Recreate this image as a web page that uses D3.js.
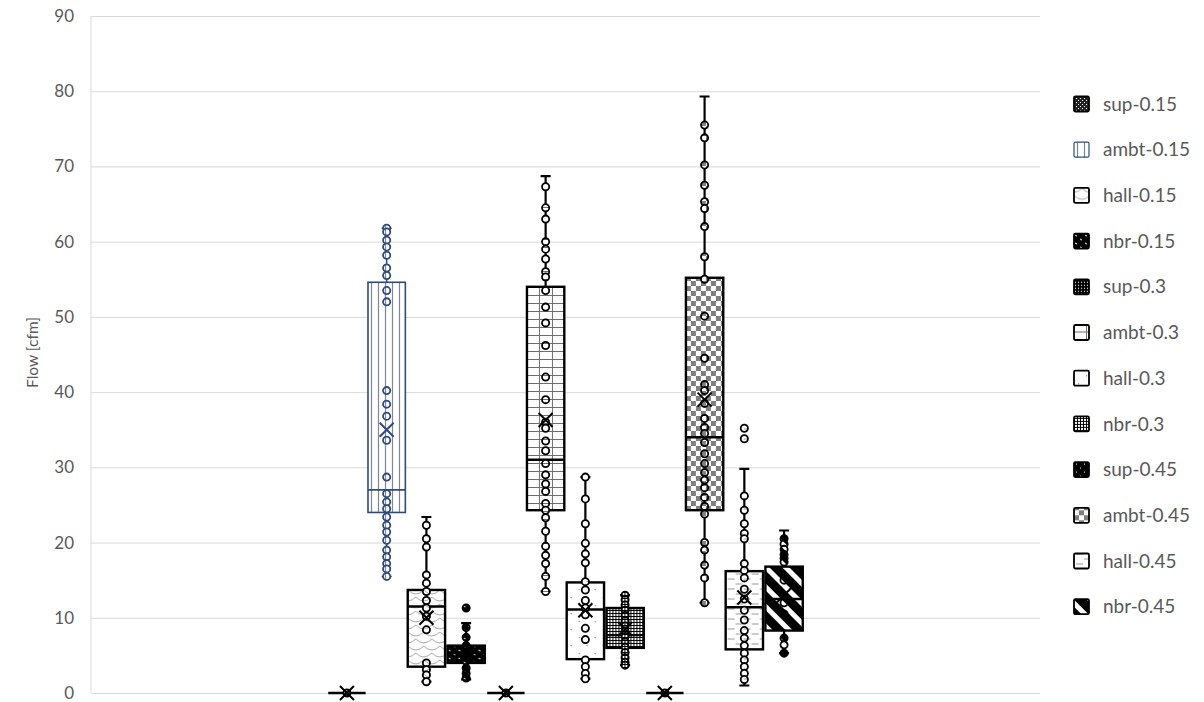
<!DOCTYPE html>
<html>
<head>
<meta charset="utf-8">
<script src="https://cdn.jsdelivr.net/npm/d3@7"></script>
<style>
  body { margin: 0; background: #fff; }
  text { font-family: Lato, 'Open Sans', sans-serif; }
</style>
</head>
<body>
<div id="chart"></div>
<script>
const margin = {top: 16, right: 164, bottom: 9, left: 91};

const WIDTH = 1204;
const HEIGHT = 702;

const width = WIDTH - margin.left - margin.right;
const height = HEIGHT - margin.top - margin.bottom;

// series, in the order of the legend
const seriesNames = ['sup-0.15', 'ambt-0.15', 'hall-0.15', 'nbr-0.15',
                     'sup-0.3', 'ambt-0.3', 'hall-0.3', 'nbr-0.3',
                     'sup-0.45', 'ambt-0.45', 'hall-0.45', 'nbr-0.45'];

// box statistics
const q1Values     = [0, 24.0, 3.5, 4.0, 0, 24.3, 4.5, 6.0, 0, 24.3, 5.8, 8.3];
const medianValues = [0, 27.0, 11.5, 5.3, 0, 31.0, 11.1, 7.7, 0, 34.0, 11.4, 12.5];
const q3Values     = [0, 54.6, 13.7, 6.3, 0, 54.0, 14.7, 11.3, 0, 55.2, 16.2, 16.8];
const meanValues   = [0, 35.0, 10.0, 5.2, 0, 36.3, 11.0, 8.5, 0, 39.0, 12.7, 13.0];
const whiskerLow   = [0, 15.5, 1.5, 1.8, 0, 13.5, 1.9, 3.7, 0, 12.0, 1.0, 5.3];
const whiskerHigh  = [0, 61.8, 23.4, 9.3, 0, 68.7, 28.7, 13.0, 0, 79.3, 29.8, 21.6];

// individual points
const pointsSup015  = [0];
const pointsAmbt015 = [61.8, 61.3, 60.2, 59.3, 58.2, 56.5, 55.5, 53.5, 52.0, 40.2, 38.4, 36.8, 33.6, 28.7,
                       26.5, 25.4, 24.5, 23.4, 22.3, 21.4, 20.3, 19.0, 18.1, 17.2, 16.5, 15.5];
const pointsHall015 = [22.3, 20.5, 19.4, 15.7, 14.6, 13.5, 12.3, 11.3, 10.2, 8.4, 4.0, 3.1, 2.4, 1.5];
const pointsNbr015  = [11.3, 8.7, 7.4, 6.3, 5.8, 5.3, 4.8, 4.2, 3.3, 2.6, 2.0];
const pointsSup03   = [0];
const pointsAmbt03  = [67.3, 64.5, 63.0, 60.0, 59.0, 57.7, 56.0, 55.3, 53.5, 51.3, 49.2, 46.2, 42.0, 39.0,
                       36.0, 35.2, 33.5, 32.2, 30.5, 29.0, 27.8, 26.8, 25.2, 24.3, 23.3, 21.5, 19.5, 18.3,
                       17.2, 15.5, 13.5];
const pointsHall03  = [28.7, 25.8, 22.5, 19.9, 18.5, 17.3, 14.8, 13.7, 12.3, 11.3, 10.4, 8.6, 7.1, 4.4, 3.5, 2.6, 1.9];
const pointsNbr03   = [13.0, 12.4, 11.7, 11.0, 10.3, 9.6, 8.9, 8.2, 7.5, 6.8, 6.1, 5.4, 4.7, 4.1, 3.7];
const pointsSup045  = [0];
const pointsAmbt045 = [75.5, 73.8, 70.2, 67.5, 65.3, 64.4, 62.0, 58.0, 55.0, 50.1, 44.5, 41.0, 40.2, 38.5,
                       36.5, 35.3, 34.5, 33.3, 31.8, 30.5, 29.3, 28.3, 27.3, 26.0, 24.8, 23.8, 20.0, 19.0,
                       17.0, 15.3, 12.0];
const pointsHall045 = [35.2, 33.8, 26.2, 24.3, 22.5, 21.2, 20.5, 17.2, 16.3, 15.3, 13.8, 12.5, 11.0, 9.7,
                       8.3, 7.3, 6.3, 5.3, 4.4, 3.5, 2.6, 1.8];
const pointsNbr045  = [20.5, 19.8, 19.1, 18.4, 17.9, 17.4, 15.0, 12.0, 10.5, 7.3, 6.4, 5.3];

const pointsAll = [pointsSup015, pointsAmbt015, pointsHall015, pointsNbr015,
                   pointsSup03, pointsAmbt03, pointsHall03, pointsNbr03,
                   pointsSup045, pointsAmbt045, pointsHall045, pointsNbr045];

const yTicks = [0, 10, 20, 30, 40, 50, 60, 70, 80, 90];

const series = seriesNames.map((name, i) => ({
    name, i,
    q1: q1Values[i], med: medianValues[i], q3: q3Values[i], mean: meanValues[i],
    lo: whiskerLow[i], hi: whiskerHigh[i], pts: pointsAll[i]
}));

const svg = d3.select('#chart')
    .append('svg')
        .attr('width', WIDTH)
        .attr('height', HEIGHT);

// fill patterns, one per series
const defs = svg.append('defs');
const pat = (id, w, h, draw, transform) => {
    const p = defs.append('pattern')
        .attr('id', id)
        .attr('patternUnits', 'userSpaceOnUse')
        .attr('width', w)
        .attr('height', h);
    if (transform) p.attr('patternTransform', transform);
    draw(p);
};
const bg = (p, c, w, h) => p.append('rect').attr('width', w).attr('height', h).attr('fill', c);

pat('p0', 4, 4, p => {
    bg(p, '#222', 4, 4);
    p.append('rect').attr('x', 0).attr('y', 0).attr('width', 1).attr('height', 1).attr('fill', '#fff');
    p.append('rect').attr('x', 2).attr('y', 2).attr('width', 1).attr('height', 1).attr('fill', '#fff');
});
pat('p1', 7, 10, p => {
    bg(p, '#fff', 7, 10);
    p.append('line').attr('x1', 3.5).attr('x2', 3.5).attr('y1', 0).attr('y2', 10)
        .attr('stroke', '#7d8596').attr('stroke-width', 1.2);
});
pat('p2', 16, 14, p => {
    bg(p, '#fff', 16, 14);
    p.append('path')
        .attr('d', 'M0 0 Q8 8 16 0 M-8 7 Q0 15 8 7 M8 7 Q16 15 24 7 M0 14 Q8 22 16 14')
        .attr('fill', 'none').attr('stroke', '#a0a0a0').attr('stroke-width', 0.9);
});
pat('p3', 10, 8, p => {
    bg(p, '#000', 10, 8);
    p.append('path').attr('d', 'M1 2 L3 3 M6 6 L8 7')
        .attr('stroke', '#fff').attr('stroke-width', 1);
});
pat('p4', 3, 3, p => {
    bg(p, '#000', 3, 3);
    p.append('rect').attr('x', 1).attr('y', 1).attr('width', 1).attr('height', 1).attr('fill', '#fff');
});
pat('p5', 13, 8, p => {
    bg(p, '#fff', 13, 8);
    p.append('path').attr('d', 'M0 7.5 H13 M12.5 0 V8')
        .attr('stroke', '#6e6e6e').attr('stroke-width', 1);
});
pat('p6', 16, 16, p => {
    bg(p, '#fff', 16, 16);
    p.append('rect').attr('x', 4).attr('y', 5).attr('width', 1.2).attr('height', 1.2).attr('fill', '#888');
    p.append('rect').attr('x', 12).attr('y', 13).attr('width', 1.2).attr('height', 1.2).attr('fill', '#888');
});
pat('p7', 3, 3, p => {
    bg(p, '#000', 3, 3);
    p.append('rect').attr('x', 1).attr('y', 1).attr('width', 2).attr('height', 2).attr('fill', '#fff');
});
pat('p8', 8, 8, p => {
    bg(p, '#000', 8, 8);
    p.append('rect').attr('x', 2).attr('y', 2).attr('width', 1).attr('height', 1).attr('fill', '#fff');
    p.append('rect').attr('x', 6).attr('y', 6).attr('width', 1).attr('height', 1).attr('fill', '#fff');
});
pat('p9', 10, 10, p => {
    bg(p, '#fff', 10, 10);
    p.append('rect').attr('width', 5).attr('height', 5).attr('fill', '#7f7f7f');
    p.append('rect').attr('x', 5).attr('y', 5).attr('width', 5).attr('height', 5).attr('fill', '#7f7f7f');
});
pat('p10', 16, 10, p => {
    bg(p, '#fff', 16, 10);
    p.append('path').attr('d', 'M2 3 H9 M10 8 H17 M-6 8 H1')
        .attr('stroke', '#9a9a9a').attr('stroke-width', 1);
});
pat('p11', 14, 14, p => {
    bg(p, '#000', 14, 14);
    p.append('rect').attr('width', 5).attr('height', 14).attr('fill', '#fff');
}, 'rotate(-45)');

const strokeOf = i => i === 1 ? '#2f4b7c' : '#000';
const swOf = i => i === 1 ? 1.6 : 2.4;

const container = svg.append('g')
    .attr('transform', `translate(${margin.left},${margin.top})`);

const y = d3.scaleLinear()
    .domain([0, 90])
    .range([height, 0]);

const x = d3.scaleBand()
    .domain(seriesNames)
    .range([width * 0.25, width * 0.75])
    .paddingInner(0.06);

// gridlines + labels
const yAxis = container.append('g')
    .call(d3.axisLeft(y).tickValues(yTicks).tickSize(-width).tickPadding(17));
yAxis.select('.domain').remove();
yAxis.selectAll('line').attr('stroke', '#d9d9d9');
yAxis.selectAll('text')
    .attr('fill', '#595959')
    .style('font-size', '17px');

container.append('line')
    .attr('x1', 0).attr('x2', 0)
    .attr('y1', 0).attr('y2', height)
    .attr('stroke', '#d9d9d9');

svg.append('text')
    .attr('transform', `translate(33,${margin.top + height / 2 - 2}) rotate(-90)`)
    .attr('text-anchor', 'middle')
    .attr('dy', '0.35em')
    .attr('fill', '#595959')
    .style('font-size', '15.5px')
    .text('Flow [cfm]');

// boxes
const bw = x.bandwidth();
const boxes = container.selectAll('.box').data(series).enter()
    .append('g')
    .attr('class', 'box')
    .attr('transform', d => `translate(${x(d.name)},0)`);

boxes.append('line')
    .attr('x1', bw / 2).attr('x2', bw / 2)
    .attr('y1', d => y(d.hi)).attr('y2', d => y(d.q3))
    .attr('stroke', d => strokeOf(d.i)).attr('stroke-width', d => d.i === 1 ? 1.5 : 2.2);
boxes.append('line')
    .attr('x1', bw / 2).attr('x2', bw / 2)
    .attr('y1', d => y(d.q1)).attr('y2', d => y(d.lo))
    .attr('stroke', d => strokeOf(d.i)).attr('stroke-width', d => d.i === 1 ? 1.5 : 2.2);
boxes.append('path')
    .attr('d', d => `M${bw / 2 - 5},${y(d.hi)}H${bw / 2 + 5}M${bw / 2 - 5},${y(d.lo)}H${bw / 2 + 5}`)
    .attr('stroke', d => strokeOf(d.i)).attr('stroke-width', d => d.i === 1 ? 1.5 : 2.2);

boxes.append('rect')
    .attr('x', 0)
    .attr('y', d => y(d.q3))
    .attr('width', bw)
    .attr('height', d => y(d.q1) - y(d.q3))
    .attr('fill', d => `url(#p${d.i})`)
    .attr('stroke', d => strokeOf(d.i))
    .attr('stroke-width', d => swOf(d.i));

boxes.append('line')
    .attr('x1', 0).attr('x2', bw)
    .attr('y1', d => y(d.med)).attr('y2', d => y(d.med))
    .attr('stroke', d => strokeOf(d.i))
    .attr('stroke-width', d => swOf(d.i));

boxes.each(function(d) {
    d3.select(this).selectAll('circle').data(d.pts).enter()
        .append('circle')
        .attr('cx', bw / 2)
        .attr('cy', v => y(v))
        .attr('r', 3.6)
        .attr('fill', `url(#p${d.i})`)
        .attr('stroke', strokeOf(d.i))
        .attr('stroke-width', 1.8);
});

boxes.append('path')
    .attr('d', d => {
        const cx = bw / 2, cy = y(d.mean), s = 7;
        return `M${cx - s},${cy - s}L${cx + s},${cy + s}M${cx - s},${cy + s}L${cx + s},${cy - s}`;
    })
    .attr('stroke', d => strokeOf(d.i))
    .attr('stroke-width', 2);

// legend
const legend = svg.append('g')
    .attr('transform', 'translate(1074,104)');
const items = legend.selectAll('.item').data(series).enter()
    .append('g')
    .attr('class', 'item')
    .attr('transform', (d, i) => `translate(0,${i * 45.7})`);
items.append('rect')
    .attr('x', 0).attr('y', -7.5)
    .attr('width', 15).attr('height', 15)
    .attr('rx', 1.5)
    .attr('fill', d => `url(#p${d.i})`)
    .attr('stroke', d => strokeOf(d.i))
    .attr('stroke-width', d => d.i === 1 ? 1.2 : 1.8);
items.append('text')
    .attr('x', 29)
    .attr('dy', '0.35em')
    .attr('fill', '#595959')
    .style('font-size', '19px')
    .text(d => d.name);
</script>
</body>
</html>
